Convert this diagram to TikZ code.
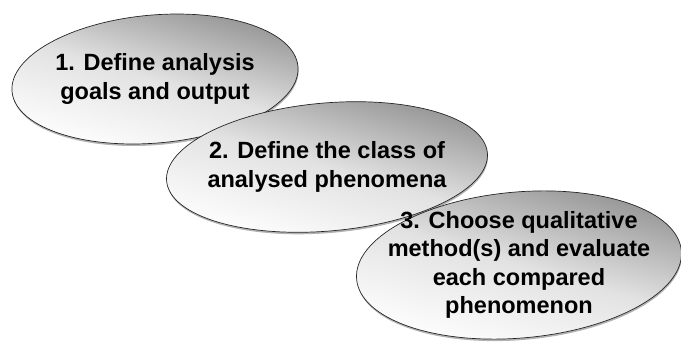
\documentclass[tikz,border=0pt]{standalone}
\usepackage{fontspec}
\setmainfont{Liberation Sans}
\usepackage{xcolor}
\usepackage{tikz}
\usetikzlibrary{shapes.geometric, shadows}
\definecolor{stgray}{HTML}{929292}
\definecolor{stlight}{HTML}{E2E2E2}

\begin{document}
\begin{tikzpicture}[
  x=1pt, y=1pt,
  stage/.style={ellipse, draw=black!85, line width=0.7pt, inner sep=0pt, rotate=5,
    top color=stgray, bottom color=white, middle color=stlight, shading angle=-16,
    drop shadow={shadow xshift=0.5pt, shadow yshift=-2pt, opacity=0.6}},
  stagetext/.style={font=\fontsize{23.5}{28.5}\selectfont\bfseries, align=center},
]
\useasboundingbox (0,0) rectangle (681,341);

% Stage 1
\node[stage, minimum width=287, minimum height=128] (goals) at (155,262) {};
\node[stagetext] (goalstext) at (goals.center) {1. Define analysis\\goals and output};

% Stage 2
\node[stage, minimum width=322, minimum height=128] (phenomena) at (327,174) {};
\node[stagetext] (phenomenatext) at (phenomena.center) {2. Define the class of\\analysed phenomena};

% Stage 3
\node[stage, minimum width=326, minimum height=146] (method) at (519,76) {};
\node[stagetext] (methodtext) at (method.center) {3. Choose qualitative\\method(s) and evaluate\\each compared\\phenomenon};

\end{tikzpicture}
\end{document}
